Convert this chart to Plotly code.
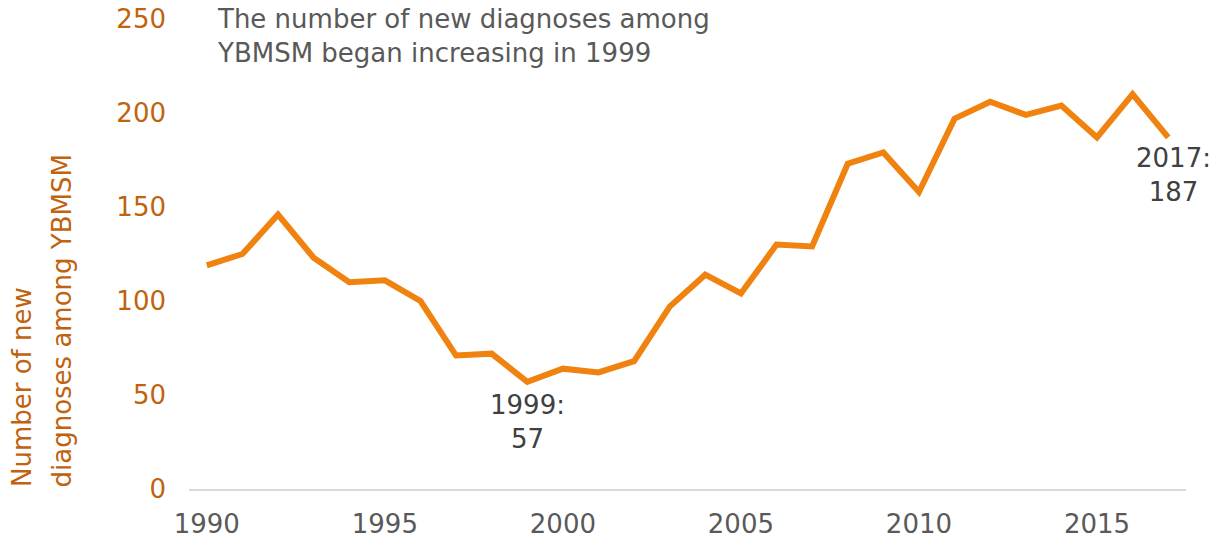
import plotly.graph_objects as go

years = list(range(1990, 2018))
diagnoses = [119, 125, 146, 123, 110, 111, 100, 71, 72, 57, 64, 62, 68, 97,
             114, 104, 130, 129, 173, 179, 158, 197, 206, 199, 204, 187, 210, 187]
x_ticks = [1990, 1995, 2000, 2005, 2010, 2015]
y_ticks = [0, 50, 100, 150, 200, 250]
labelled_years = [1999, 2017]
title_text = "The number of new diagnoses among<br>YBMSM began increasing in 1999"
y_title_lines = ["Number of new", "diagnoses among YBMSM"]

FONT = "Verdana, DejaVu Sans, sans-serif"
ORANGE = "#F0820F"
AXIS_ORANGE = "#C0620E"
FS = 26

fig = go.Figure()
fig.add_trace(go.Scatter(
    x=years, y=diagnoses, mode="lines",
    line=dict(color=ORANGE, width=6),
    hoverinfo="skip", showlegend=False,
))

shifts = {1999: (0, -40), 2017: (5, -38)}
for yr in labelled_years:
    i = years.index(yr)
    xs, ys = shifts[yr]
    fig.add_annotation(
        x=years[i], y=diagnoses[i], xref="x", yref="y",
        text=f"{years[i]}:<br>{diagnoses[i]}", showarrow=False,
        xshift=xs, yshift=ys, yanchor="middle", xanchor="center",
        font=dict(family=FONT, size=FS, color="#404040"),
    )

fig.add_annotation(
    x=0.026, y=0.964, xref="paper", yref="paper",
    text=title_text, showarrow=False, align="left",
    xanchor="left", yanchor="middle",
    font=dict(family=FONT, size=FS, color="#595959"),
)

for xp, line in zip([-0.1675, -0.1274], y_title_lines):
    fig.add_annotation(
        x=xp, y=0, xref="paper", yref="paper",
        text=line, showarrow=False, textangle=-90,
        xanchor="center", yanchor="bottom",
        font=dict(family=FONT, size=FS, color=AXIS_ORANGE),
    )

fig.update_layout(
    width=1224, height=541,
    margin=dict(l=189, r=38, t=19, b=52),
    paper_bgcolor="white", plot_bgcolor="white",
    font=dict(family=FONT, size=FS),
    xaxis=dict(
        range=[1989.5, 2017.5], tickvals=x_ticks,
        showgrid=False, zeroline=False, showline=True,
        linecolor="#D9D9D9", linewidth=2, ticks="",
        ticklabelstandoff=11, automargin=False, ticklabeloverflow="allow",
        tickfont=dict(family=FONT, size=FS, color="#595959"),
    ),
    yaxis=dict(
        range=[0, 250], tickvals=y_ticks,
        showgrid=False, zeroline=False, showline=False, ticks="",
        ticklabelstandoff=22, automargin=False, ticklabeloverflow="allow",
        tickfont=dict(family=FONT, size=FS, color=AXIS_ORANGE),
    ),
)

# remove the browser's default 8px body margin so the figure fills the window
fig.write_html("out.html", config={"displayModeBar": False},
               post_script="document.body.style.margin='0';")
